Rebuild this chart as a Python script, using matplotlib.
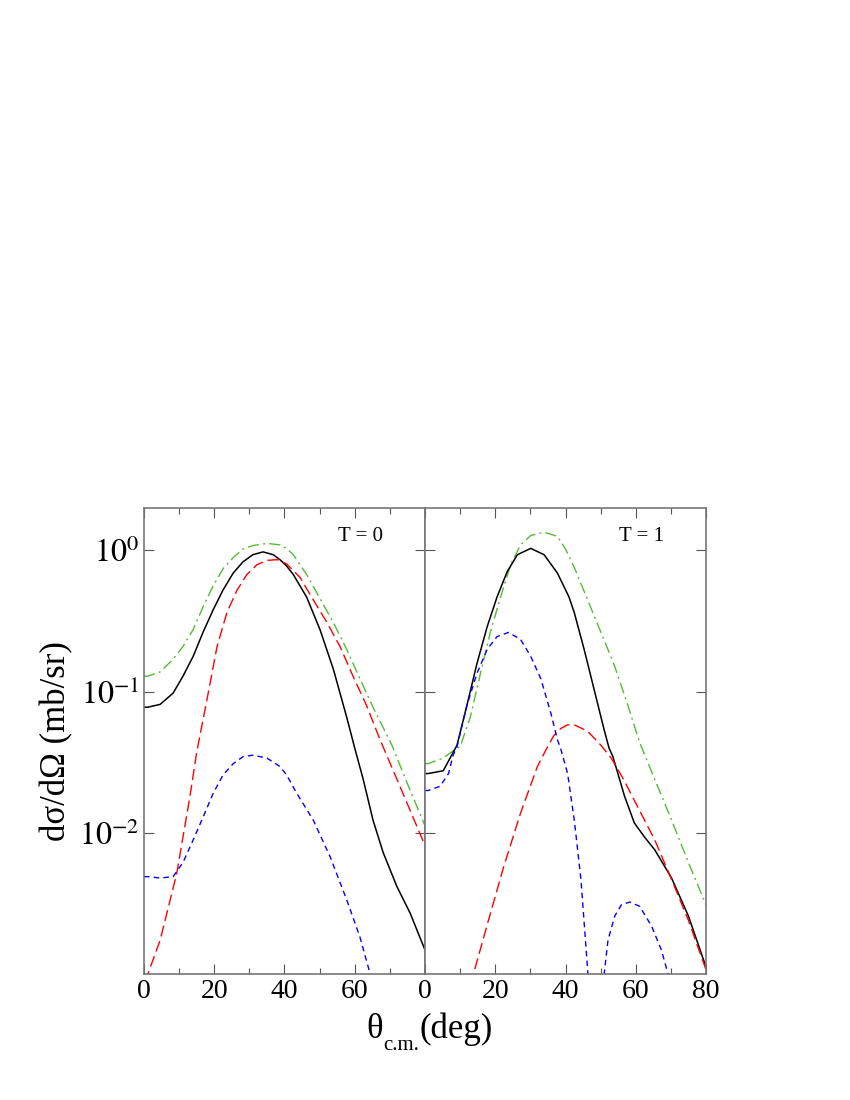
import matplotlib.pyplot as plt
from matplotlib.ticker import FixedLocator, MultipleLocator, NullFormatter, NullLocator

plt.rcParams['font.family'] = ['Liberation Serif', 'DejaVu Serif']
plt.rcParams['mathtext.fontset'] = 'stix'

# values, stored as log10(dsigma/dOmega)
# T = 0 panel
t0_black_x = [0, 1.1, 4.6, 8.3, 11.1, 14, 16.8, 19.7, 22.5, 25.4, 28.2, 31, 33.9, 36.8,
              38.7, 40.6, 42.5, 46.3, 50.1, 53.9, 57.7, 60, 62.4, 65.2, 68.1, 72, 75.8, 80]
t0_black_y = [-1.11, -1.11, -1.09, -1.01, -0.89, -0.75, -0.58, -0.42, -0.28, -0.16, -0.08,
              -0.03, -0.01, -0.03, -0.065, -0.11, -0.17, -0.33, -0.56, -0.84, -1.18, -1.40,
              -1.62, -1.91, -2.14, -2.38, -2.57, -2.83]
t0_green_x = [0, 1.1, 4.6, 8.3, 11.1, 14, 16.8, 19.7, 22.5, 25.4, 28.2, 31, 35, 38.7,
              40.6, 42.5, 46.3, 50.1, 53.9, 57.7, 61.5, 65.4, 70.6, 74.8, 80]
t0_green_y = [-0.89, -0.89, -0.86, -0.77, -0.68, -0.56, -0.40, -0.25, -0.13, -0.05, 0.01,
              0.035, 0.05, 0.04, 0.015, -0.03, -0.17, -0.34, -0.51, -0.70, -0.91, -1.12,
              -1.38, -1.64, -1.95]
t0_red_x = [0, 1.1, 4.6, 7.4, 9.3, 11.1, 13.1, 15, 17.9, 20.8, 23.6, 26.5, 29.3, 32.2,
            35, 37.9, 40.6, 44.4, 48.2, 52.1, 55.8, 59.5, 63.4, 67.2, 72, 76.6, 80]
t0_red_y = [-3.05, -3.0, -2.76, -2.48, -2.29, -2.03, -1.74, -1.43, -1.06, -0.68, -0.44,
            -0.28, -0.17, -0.10, -0.07, -0.065, -0.095, -0.19, -0.35, -0.51, -0.68, -0.89,
            -1.10, -1.34, -1.62, -1.89, -2.09]
t0_blue_x = [0, 1.1, 4.6, 8.3, 11.1, 14, 16.8, 19.7, 22.5, 25.4, 28.2, 31, 35, 38.7,
             40.6, 43.5, 48.2, 53, 57.8, 61.5, 64.4, 66]
t0_blue_y = [-2.31, -2.31, -2.32, -2.31, -2.21, -2.05, -1.89, -1.72, -1.59, -1.51, -1.46,
             -1.45, -1.47, -1.53, -1.59, -1.72, -1.91, -2.17, -2.48, -2.74, -3.0, -3.15]

# T = 1 panel
t1_black_x = [0, 0.9, 5.2, 9.1, 11.9, 14.8, 17.7, 20.5, 23.4, 26.3, 30.1, 33.9, 37.7,
              41, 42.5, 45.3, 48.2, 51, 52.4, 53.5, 56.8, 59.6, 62.5, 65.4, 70.2, 75, 80]
t1_black_y = [-1.58, -1.58, -1.56, -1.38, -1.10, -0.80, -0.54, -0.33, -0.15, -0.03, 0.015,
              -0.03, -0.16, -0.33, -0.44, -0.70, -0.99, -1.27, -1.40, -1.46, -1.74, -1.93,
              -2.03, -2.12, -2.32, -2.59, -2.95]
t1_green_x = [0, 0.9, 5.2, 9.1, 10, 12.9, 15.8, 18.6, 21.5, 24.4, 27.2, 30.1, 33.9, 37.7,
              40, 42.5, 46.3, 50.1, 54, 57.8, 61.1, 65.4, 70.2, 75, 80]
t1_green_y = [-1.51, -1.51, -1.47, -1.40, -1.39, -1.18, -0.87, -0.58, -0.33, -0.10, 0.04,
              0.106, 0.13, 0.10, 0.01, -0.12, -0.35, -0.58, -0.82, -1.10, -1.36, -1.62,
              -1.91, -2.21, -2.51]
t1_red_x = [12, 13.8, 17.6, 22.4, 27.2, 32, 34.9, 36.7, 38.7, 40.6, 42.5, 46.3, 50.1, 53,
            56.5, 59.6, 65.4, 70.2, 75, 80]
t1_red_y = [-3.3, -3.0, -2.66, -2.24, -1.86, -1.53, -1.39, -1.31, -1.26, -1.235, -1.235,
            -1.28, -1.38, -1.47, -1.62, -1.77, -2.05, -2.33, -2.62, -2.97]
t1_blue_x = [0, 0.9, 4.3, 6.7, 8, 9.1, 11.9, 14.8, 17.7, 20.5, 23.8, 27.2, 30.1, 33,
             35.8, 37.7, 38.7, 40.6, 42.5, 44.4, 46.3, 48, 51, 52.1, 54, 55.9, 58.3,
             61.1, 64.5, 67.3, 69.2, 71]
t1_blue_y = [-1.70, -1.70, -1.67, -1.58, -1.45, -1.39, -1.10, -0.87, -0.70, -0.61, -0.58,
             -0.63, -0.75, -0.91, -1.15, -1.34, -1.41, -1.58, -1.91, -2.33, -2.97, -4.0,
             -3.0, -2.76, -2.59, -2.51, -2.49, -2.52, -2.66, -2.83, -3.0, -3.2]

panels = [
    ("T = 0", t0_black_x, t0_black_y, t0_green_x, t0_green_y,
     t0_red_x, t0_red_y, t0_blue_x, t0_blue_y),
    ("T = 1", t1_black_x, t1_black_y, t1_green_x, t1_green_y,
     t1_red_x, t1_red_y, t1_blue_x, t1_blue_y),
]

fig = plt.figure(figsize=(8.5, 11), dpi=100)
left, bottom, width, height = 0.1694, 0.1145, 0.3306, 0.4237

for i, (tag, bx, by, gx, gy, rx, ry, ux, uy) in enumerate(panels):
    ax = fig.add_axes([left + i * width, bottom, width, height])
    ax.plot(gx, [10 ** v for v in gy], color='#55bb33', lw=1.0, dashes=(8, 3, 1.5, 3))
    ax.plot(bx, [10 ** v for v in by], color='black', lw=1.1)
    ax.plot(rx, [10 ** v for v in ry], color='red', lw=1.0, dashes=(8, 3.5))
    ax.plot(ux, [10 ** v for v in uy], color='blue', lw=1.0, dashes=(4, 3))

    ax.set_yscale('log')
    ax.set_xlim(0, 80)
    ax.set_ylim(1e-3, 2)
    ax.yaxis.set_major_locator(FixedLocator([1e-2, 1e-1, 1]))
    ax.yaxis.set_minor_locator(NullLocator())
    ax.xaxis.set_major_locator(MultipleLocator(20))
    ax.xaxis.set_minor_locator(MultipleLocator(10))
    ax.tick_params(which='both', direction='in', top=True, right=True,
                   labelsize=20, color='#555555')
    ax.tick_params(which='major', length=7, width=0.8)
    ax.tick_params(which='minor', length=4, width=0.8)
    for s in ax.spines.values():
        s.set_color('#777777')
        s.set_linewidth(1.2)

    if i == 0:
        ax.set_xticks([0, 20, 40, 60])
        ax.set_yticklabels([r'$10^{-2}$', r'$10^{-1}$', r'$10^{0}$'])
        ax.tick_params(axis='y', labelsize=23)
        ax.set_ylabel('dσ/dΩ (mb/sr)', fontsize=25, labelpad=4)
    else:
        ax.yaxis.set_major_formatter(NullFormatter())
    ax.text(0.69, 0.938, tag, transform=ax.transAxes, fontsize=15, va='center')

# x label built from pieces so the subscript stays compact
fig.canvas.draw()
rend = fig.canvas.get_renderer()
x0, yb = 366 / 850, 1 - 1038 / 1100
th = fig.text(x0, yb, 'θ', fontsize=25, va='baseline')
x1 = fig.transFigure.inverted().transform(th.get_window_extent(rend))[1][0]
sub = fig.text(x1 + 0.001, yb - 0.011, 'c.m.', fontsize=15, va='baseline')
x2 = fig.transFigure.inverted().transform(sub.get_window_extent(rend))[1][0]
fig.text(x2, yb, '(deg)', fontsize=25, va='baseline')

fig.savefig('out.png', dpi=100)
